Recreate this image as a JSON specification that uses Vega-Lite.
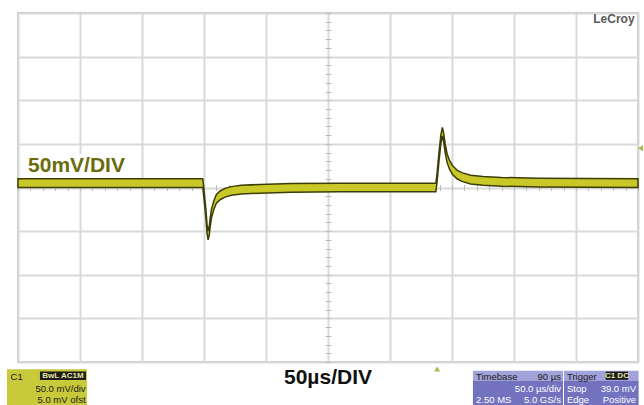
{
  "$schema": "https://vega.github.io/schema/vega-lite/v6.json",
  "width": 620,
  "height": 349,
  "autosize": {"type": "none"},
  "padding": {"left": 18, "top": 13, "right": 6, "bottom": 43},
  "background": "white",
  "config": {
    "view": {"stroke": "#c9c9c9", "strokeWidth": 2},
    "font": "Liberation Sans"
  },
  "datasets": {
    "trace": [
      {"t": 0, "v": 10, "v2": 0},
      {"t": 149, "v": 10, "v2": 0},
      {"t": 150, "v": -3, "v2": -13},
      {"t": 151.5, "v": -25, "v2": -35},
      {"t": 152.5, "v": -43, "v2": -53},
      {"t": 153.3, "v": -50, "v2": -60},
      {"t": 154.2, "v": -45, "v2": -55},
      {"t": 155, "v": -35, "v2": -45},
      {"t": 156, "v": -25, "v2": -35},
      {"t": 158, "v": -15, "v2": -25},
      {"t": 160, "v": -8, "v2": -18},
      {"t": 163, "v": -4, "v2": -14},
      {"t": 167, "v": -1, "v2": -11},
      {"t": 172, "v": 1, "v2": -9},
      {"t": 180, "v": 2.5, "v2": -7.5},
      {"t": 195, "v": 3.5, "v2": -6.5},
      {"t": 220, "v": 4.5, "v2": -5.5},
      {"t": 260, "v": 5, "v2": -5},
      {"t": 337, "v": 5, "v2": -5},
      {"t": 338, "v": 17, "v2": 7},
      {"t": 339.5, "v": 40, "v2": 30},
      {"t": 341, "v": 60, "v2": 50},
      {"t": 342.2, "v": 69, "v2": 59},
      {"t": 343.2, "v": 63, "v2": 53},
      {"t": 344.5, "v": 50, "v2": 40},
      {"t": 346, "v": 39, "v2": 29},
      {"t": 348, "v": 31, "v2": 21},
      {"t": 350.5, "v": 25, "v2": 15},
      {"t": 354, "v": 20, "v2": 10},
      {"t": 358, "v": 17, "v2": 7},
      {"t": 365, "v": 14, "v2": 4},
      {"t": 375, "v": 12.5, "v2": 2.5},
      {"t": 390, "v": 11.5, "v2": 1.5},
      {"t": 420, "v": 10.5, "v2": 0.5},
      {"t": 500, "v": 10, "v2": 0}
    ],
    "boxes": [
      {"part": "bg", "t": 3, "t2": 88, "v": 8, "v2": 38},
      {"part": "c1", "t": -8.9, "t2": 55.6, "v": -208.4, "v2": -262},
      {"part": "badge", "t": 17.7, "t2": 54.8, "v": -211, "v2": -220.5},
      {"part": "head", "t": 366.9, "t2": 439.5, "v": -210, "v2": -221.3},
      {"part": "body", "t": 366.9, "t2": 439.5, "v": -221.3, "v2": -262},
      {"part": "head", "t": 440.3, "t2": 500.5, "v": -210, "v2": -221.3},
      {"part": "body", "t": 440.3, "t2": 500.5, "v": -221.3, "v2": -262},
      {"part": "badge", "t": 474, "t2": 492, "v": -211, "v2": -220.5}
    ],
    "leftText": [
      {"t": -6, "v": -217.5, "label": "C1", "ink": "dark"},
      {"t": 369.4, "v": -217.5, "label": "Timebase", "ink": "dark"},
      {"t": 369.4, "v": -243.5, "label": "2.50 MS", "ink": "light"},
      {"t": 442.7, "v": -217.5, "label": "Trigger", "ink": "dark"},
      {"t": 442.7, "v": -231, "label": "Stop", "ink": "light"},
      {"t": 442.7, "v": -243.5, "label": "Edge", "ink": "light"}
    ],
    "rightText": [
      {"t": 54.5, "v": -231, "label": "50.0 mV/div", "ink": "dark"},
      {"t": 54.5, "v": -243.5, "label": "5.0 mV ofst", "ink": "dark"},
      {"t": 437.9, "v": -217.5, "label": "90 µs", "ink": "dark"},
      {"t": 437.9, "v": -231, "label": "50.0 µs/div", "ink": "light"},
      {"t": 437.9, "v": -243.5, "label": "5.0 GS/s", "ink": "light"},
      {"t": 498.4, "v": -231, "label": "39.0 mV", "ink": "light"},
      {"t": 498.4, "v": -243.5, "label": "Positive", "ink": "light"}
    ],
    "badgeText": [
      {"t": 36.2, "v": -216, "label": "BwL AC1M"},
      {"t": 483, "v": -216, "label": "C1 DC"}
    ],
    "markers": [
      {"t": 338, "v": -208, "m": "trig"},
      {"t": 502, "v": 45, "m": "level"}
    ]
  },
  "encoding": {
    "x": {
      "field": "t",
      "type": "quantitative",
      "scale": {"domain": [0, 500], "nice": false, "zero": false},
      "axis": {
        "orient": "bottom",
        "offset": -177.5,
        "tickCount": 50,
        "labels": false,
        "domain": false,
        "title": null,
        "ticks": true,
        "tickSize": 6,
        "tickWidth": 1,
        "tickColor": "#bdbdbd",
        "grid": true,
        "gridColor": "#d9d9d9",
        "gridWidth": 2,
        "gridOpacity": {"condition": {"test": "datum.value % 50 === 0", "value": 1}, "value": 0}
      }
    },
    "y": {
      "field": "v",
      "type": "quantitative",
      "scale": {"domain": [-200, 200], "nice": false, "zero": false},
      "axis": {
        "orient": "left",
        "offset": -313,
        "tickCount": 40,
        "labels": false,
        "domain": false,
        "title": null,
        "ticks": true,
        "tickSize": 6,
        "tickWidth": 1,
        "tickColor": "#bdbdbd",
        "grid": true,
        "gridColor": "#d9d9d9",
        "gridWidth": 2,
        "gridOpacity": {"condition": {"test": "datum.value % 50 === 0", "value": 1}, "value": 0}
      }
    }
  },
  "layer": [
    {
      "data": {"name": "boxes"},
      "mark": {"type": "rect"},
      "encoding": {
        "x2": {"field": "t2"},
        "y2": {"field": "v2"},
        "fill": {
          "field": "part",
          "type": "nominal",
          "scale": {"domain": ["bg", "c1", "badge", "head", "body"], "range": ["#ffffff", "#c9c93c", "#1c1c1c", "#a3a3dc", "#7272be"]},
          "legend": null
        }
      }
    },
    {
      "data": {"name": "trace"},
      "mark": {"type": "area", "fill": "#c8c828", "stroke": "#3d3d05", "strokeWidth": 1.5, "interpolate": "linear"},
      "encoding": {
        "y2": {"field": "v2"}
      }
    },
    {
      "data": {"values": [{"t": 8.1, "v": 25.2, "label": "50mV/DIV"}]},
      "mark": {"type": "text", "align": "left", "baseline": "middle", "fontSize": 21, "fontWeight": "bold", "color": "#6b6b0c"},
      "encoding": {"text": {"field": "label"}}
    },
    {
      "data": {"values": [{"t": 250, "v": -217.8, "label": "50µs/DIV"}]},
      "mark": {"type": "text", "align": "center", "baseline": "middle", "fontSize": 21, "fontWeight": "bold", "color": "#111111"},
      "encoding": {"text": {"field": "label"}}
    },
    {
      "data": {"values": [{"t": 480.6, "v": 193, "label": "LeCroy"}]},
      "mark": {"type": "text", "align": "center", "baseline": "middle", "fontSize": 12, "fontWeight": "bold", "color": "#5a5a5a"},
      "encoding": {"text": {"field": "label"}}
    },
    {
      "data": {"name": "leftText"},
      "mark": {"type": "text", "align": "left", "baseline": "middle", "fontSize": 9.5},
      "encoding": {
        "text": {"field": "label"},
        "color": {"field": "ink", "type": "nominal", "scale": {"domain": ["dark", "light"], "range": ["#1a1a1a", "#ffffff"]}, "legend": null}
      }
    },
    {
      "data": {"name": "rightText"},
      "mark": {"type": "text", "align": "right", "baseline": "middle", "fontSize": 9.5},
      "encoding": {
        "text": {"field": "label"},
        "color": {"field": "ink", "type": "nominal", "scale": {"domain": ["dark", "light"], "range": ["#1a1a1a", "#ffffff"]}, "legend": null}
      }
    },
    {
      "data": {"name": "badgeText"},
      "mark": {"type": "text", "align": "center", "baseline": "middle", "fontSize": 8, "fontWeight": "bold", "color": "#e6e6a0"},
      "encoding": {"text": {"field": "label"}}
    },
    {
      "data": {"name": "markers"},
      "mark": {"type": "point", "filled": true, "size": 35, "color": "#a6b84c", "opacity": 1},
      "encoding": {
        "shape": {"field": "m", "type": "nominal", "scale": {"domain": ["trig", "level"], "range": ["triangle-up", "triangle-left"]}, "legend": null}
      }
    }
  ],
  "resolve": {"scale": {"color": "independent"}}
}
